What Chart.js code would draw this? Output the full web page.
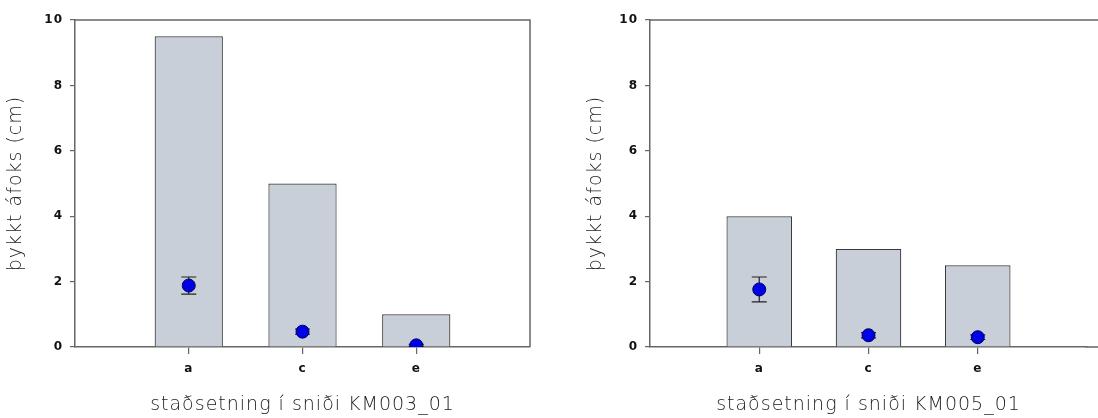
<!DOCTYPE html>
<html lang="is">
	<head>
		<meta charset="UTF-8" />
		<title>Þykkt áfoks</title>
		<script src="https://cdn.jsdelivr.net/npm/chart.js"></script>
		<style>
			html,
			body {
				margin: 0;
				padding: 0;
				background: #fff;
				overflow: hidden;
			}
			.wrap {
				position: relative;
				width: 1098px;
				height: 418px;
			}
			canvas {
				position: absolute;
				top: 0;
			}
			#km003 {
				left: 0;
			}
			#km005 {
				left: 549px;
			}
		</style>
	</head>
	<body>
		<div class="wrap">
			<canvas id="km003" width="549" height="418"></canvas>
			<canvas id="km005" width="549" height="418"></canvas>
		</div>
		<script>
			// gögn lesin af myndinni
			const stadir = ["a", "c", "e"];
			const yTicks = [0, 2, 4, 6, 8, 10];

			const sulurKM003 = [9.5, 5.0, 1.0];
			const medalKM003 = [1.88, 0.47, 0.05];
			const skekkjaKM003 = [0.26, 0.08, 0.03];

			const sulurKM005 = [4.0, 3.0, 2.5];
			const medalKM005 = [1.76, 0.36, 0.3];
			const skekkjaKM005 = [0.38, 0.08, 0.07];

			const titillX1 = "staðsetning í sniði KM003_01";
			const titillX2 = "staðsetning í sniði KM005_01";
			const titillY = "þykkt áfoks (cm)";

			const lina = "#666";
			const letur = "'DejaVu Sans', sans-serif";

			// villustikur og rammi
			const villuStikur = {
				id: "villuStikur",
				beforeDraw(chart) {
					// breiðara letur eins og á frummyndinni
					chart.ctx.letterSpacing = "1px";
				},
				beforeDatasetDraw(chart, args) {
					if (args.meta.type !== "scatter") return;
					const skekkja = chart.options.plugins.villuStikur.skekkja;
					const y = chart.scales.y;
					const ctx = chart.ctx;
					ctx.save();
					ctx.strokeStyle = "#222";
					ctx.lineWidth = 1.2;
					args.meta.data.forEach((p, i) => {
						const v = chart.data.datasets[args.index].data[i].y;
						const top = y.getPixelForValue(v + skekkja[i]);
						const bot = y.getPixelForValue(v - skekkja[i]);
						ctx.beginPath();
						ctx.moveTo(p.x, top);
						ctx.lineTo(p.x, bot);
						ctx.moveTo(p.x - 7.5, top);
						ctx.lineTo(p.x + 7.5, top);
						ctx.moveTo(p.x - 7.5, bot);
						ctx.lineTo(p.x + 7.5, bot);
						ctx.stroke();
					});
					ctx.restore();
				},
				afterDraw(chart) {
					const { left, right, top, bottom } = chart.chartArea;
					const opn = chart.options.plugins.villuStikur.opidHaegra;
					const ctx = chart.ctx;
					ctx.save();
					ctx.strokeStyle = lina;
					ctx.lineWidth = 1.5;
					ctx.beginPath();
					ctx.moveTo(left, top);
					if (opn) {
						ctx.lineTo(chart.width, top);
						ctx.moveTo(right - 1, bottom);
						ctx.lineTo(chart.width, bottom);
					} else {
						ctx.lineTo(right, top);
						ctx.lineTo(right, bottom);
					}
					ctx.stroke();
					ctx.restore();
				},
			};

			const teiknaMynd = (id, sulur, medal, skekkja, titill, st) => {
				const ctx = document.getElementById(id).getContext("2d");
				new Chart(ctx, {
					type: "bar",
					data: {
						datasets: [
							{
								type: "scatter",
								data: stadir.map((s, i) => ({ x: i + 1, y: medal[i] })),
								backgroundColor: "#0000e8",
								borderColor: "#00005a",
								borderWidth: 1,
								pointRadius: 6.5,
								order: 1,
							},
							{
								type: "bar",
								data: stadir.map((s, i) => ({ x: i + 1, y: sulur[i] })),
								backgroundColor: "#c9cfd9",
								borderColor: "#3a3a3a",
								borderWidth: 1.2,
								categoryPercentage: 1,
								barPercentage: 0.6,
								order: 2,
							},
						],
					},
					plugins: [villuStikur],
					options: {
						responsive: false,
						animation: false,
						layout: {
							padding: { left: st.padVinstri, right: st.padHaegri, top: 20, bottom: 0 },
						},
						plugins: {
							legend: { display: false },
							tooltip: { enabled: false },
							villuStikur: { skekkja: skekkja, opidHaegra: st.opid },
						},
						scales: {
							x: {
								type: "linear",
								offset: false,
								min: 0,
								max: 4,
								afterBuildTicks: (s) => {
									s.ticks = stadir.map((c, i) => ({ value: i + 1 }));
								},
								afterFit: (s) => {
									s.height = 71;
								},
								ticks: {
									callback: (v) => stadir[v - 1] || "",
									color: "#111",
									font: { family: "DejaVu Sans", weight: "bold", size: 12 },
									padding: 8,
									maxRotation: 0,
								},
								grid: {
									offset: false,
									drawOnChartArea: false,
									tickLength: 7,
									color: lina,
									lineWidth: 1.2,
								},
								border: { color: lina, width: 1.5 },
								title: {
									display: true,
									text: titill,
									color: "#222",
									font: { family: letur, size: 19, weight: 200 },
									padding: { top: 0, bottom: 2 },
								},
							},
							y: {
								min: 0,
								max: 10,
								afterBuildTicks: (s) => {
									s.ticks = yTicks.map((v) => ({ value: v }));
								},
								afterFit: (s) => {
									s.width = 75;
								},
								ticks: {
									color: "#111",
									font: { family: "DejaVu Sans", weight: "bold", size: 12 },
									padding: 7,
								},
								grid: {
									drawOnChartArea: false,
									tickLength: 5,
									color: lina,
									lineWidth: 1.2,
								},
								border: { color: lina, width: 1.5 },
								title: {
									display: true,
									text: titillY,
									color: "#222",
									font: { family: letur, size: 19, weight: 200 },
									padding: { top: st.titilPad, bottom: 0 },
								},
							},
						},
					},
				});
			};

			teiknaMynd("km003", sulurKM003, medalKM003, skekkjaKM003, titillX1, {
				padVinstri: 0,
				padHaegri: 19,
				titilPad: 5,
				opid: false,
			});
			teiknaMynd("km005", sulurKM005, medalKM005, skekkjaKM005, titillX2, {
				padVinstri: 26,
				padHaegri: 11,
				titilPad: 10,
				opid: true,
			});
		</script>
	</body>
</html>
